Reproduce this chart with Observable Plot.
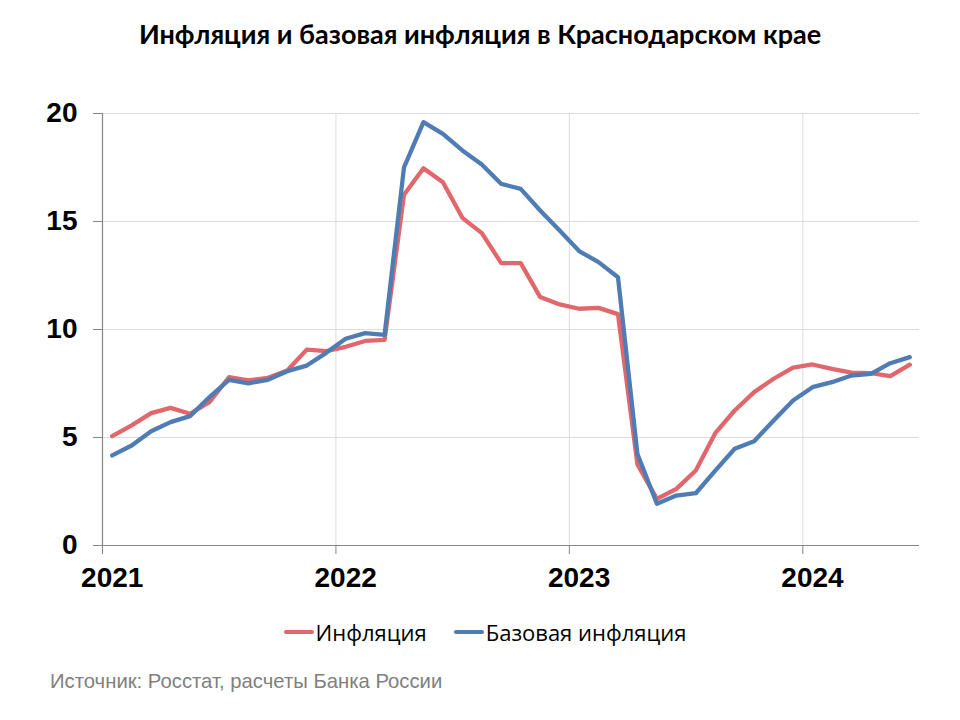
<!DOCTYPE html>
<html>
<head>
<meta charset="utf-8">
<script src="https://cdn.jsdelivr.net/npm/d3@7"></script>
<script src="https://cdn.jsdelivr.net/npm/@observablehq/plot@0.6"></script>
<style>
  html, body { margin: 0; padding: 0; background: #ffffff; }
  #wrap { width: 960px; height: 720px; position: relative; overflow: hidden; }
  #title { height: 70px; line-height: 68px; text-align: center; font-family: Lato, "Open Sans", sans-serif; font-weight: 700; font-size: 27px; color: #000; }
  #legend { display: flex; justify-content: center; align-items: center; gap: 27px; height: 44px; margin-top: 0px; padding-left: 10px; font-family: "Open Sans", Lato, sans-serif; font-size: 22px; color: #000; }
  .item { display: flex; align-items: center; gap: 2px; }
  .sw { width: 30px; height: 4px; border-radius: 2px; }
  #caption { margin-top: 12px; padding-left: 50px; font-family: "Liberation Sans", Arial, sans-serif; font-size: 20.3px; color: #808080; height: 30px; line-height: 30px; }
</style>
</head>
<body>
<div id="wrap">
  <div id="title">Инфляция и базовая инфляция в Краснодарском крае</div>
  <div id="chart"></div>
  <div id="legend"></div>
  <div id="caption">Источник: Росстат, расчеты Банка России</div>
</div>
<script>
// Monthly data, January 2021 – June 2024 (% y/y)
const startYear = 2021;
const seriesNames = ["Инфляция", "Базовая инфляция"];
const seriesColors = ["#e0676b", "#4f7db3"];
const yearTicks = [2021, 2022, 2023, 2024];
const yTicks = [0, 5, 10, 15, 20];

const inflation = [
  5.06, 5.56, 6.13, 6.37, 6.10, 6.64, 7.79, 7.64, 7.76, 8.10, 9.07, 9.00,
  9.20, 9.47, 9.52, 16.24, 17.47, 16.82, 15.17, 14.46, 13.07, 13.07, 11.50, 11.16,
  10.96, 11.00, 10.71, 3.75, 2.16, 2.62, 3.47, 5.20, 6.25, 7.10, 7.72, 8.23,
  8.38, 8.18, 8.00, 7.98, 7.84, 8.37
];
const coreInflation = [
  4.17, 4.63, 5.29, 5.71, 5.99, 6.87, 7.67, 7.51, 7.67, 8.07, 8.33, 8.92,
  9.57, 9.83, 9.75, 17.51, 19.60, 19.06, 18.29, 17.64, 16.74, 16.51, 15.51, 14.58,
  13.63, 13.12, 12.42, 4.24, 1.93, 2.31, 2.42, 3.47, 4.48, 4.83, 5.79, 6.71,
  7.33, 7.56, 7.87, 7.95, 8.44, 8.72
];

const rows = [];
[inflation, coreInflation].forEach((arr, s) => {
  arr.forEach((v, i) => rows.push({ t: startYear + (i + 0.5) / 12, v, series: seriesNames[s] }));
});
const endT = startYear + inflation.length / 12;
const janPoints = yearTicks.map(y => y + 0.5 / 12);

const axisColor = "#868686";
const gridColor = "#dcdcdc";

const chart = Plot.plot({
  width: 960,
  height: 540,
  marginLeft: 102,
  marginRight: 41,
  marginTop: 43,
  marginBottom: 65,
  style: { fontFamily: "'Liberation Sans', Arial, sans-serif", background: "transparent", overflow: "visible" },
  x: { domain: [startYear, endT] },
  y: { domain: [0, 20] },
  color: { domain: seriesNames, range: seriesColors },
  marks: [
    Plot.gridY(yTicks.filter(d => d > 0), { stroke: gridColor, strokeOpacity: 1, strokeWidth: 1 }),
    Plot.gridX(yearTicks.filter(d => d > startYear), { stroke: gridColor, strokeOpacity: 1, strokeWidth: 1 }),
    Plot.axisY(yTicks, { tickSize: 9, tickPadding: 16, fontSize: 28, fontWeight: "bold", stroke: axisColor, fill: "#000", label: null }),
    Plot.axisX(yearTicks, { tickSize: 9, stroke: axisColor, tickFormat: () => "", label: null }),
    Plot.axisX(janPoints, { tickSize: 0, tickPadding: 22, fontSize: 28, fontWeight: "bold", fill: "#000", tickFormat: d => String(Math.floor(d)), label: null }),
    Plot.ruleX([startYear], { stroke: axisColor, strokeWidth: 1.2 }),
    Plot.ruleY([0], { stroke: axisColor, strokeWidth: 1.2 }),
    Plot.line(rows, { x: "t", y: "v", z: "series", stroke: "series", strokeWidth: 4.3, strokeLinejoin: "round", strokeLinecap: "round" })
  ]
});
document.getElementById("chart").appendChild(chart);

const legend = document.getElementById("legend");
seriesNames.forEach((name, i) => {
  const item = document.createElement("div");
  item.className = "item";
  const sw = document.createElement("div");
  sw.className = "sw";
  sw.style.background = seriesColors[i];
  const label = document.createElement("span");
  label.textContent = name;
  item.appendChild(sw);
  item.appendChild(label);
  legend.appendChild(item);
});
</script>
</body>
</html>
